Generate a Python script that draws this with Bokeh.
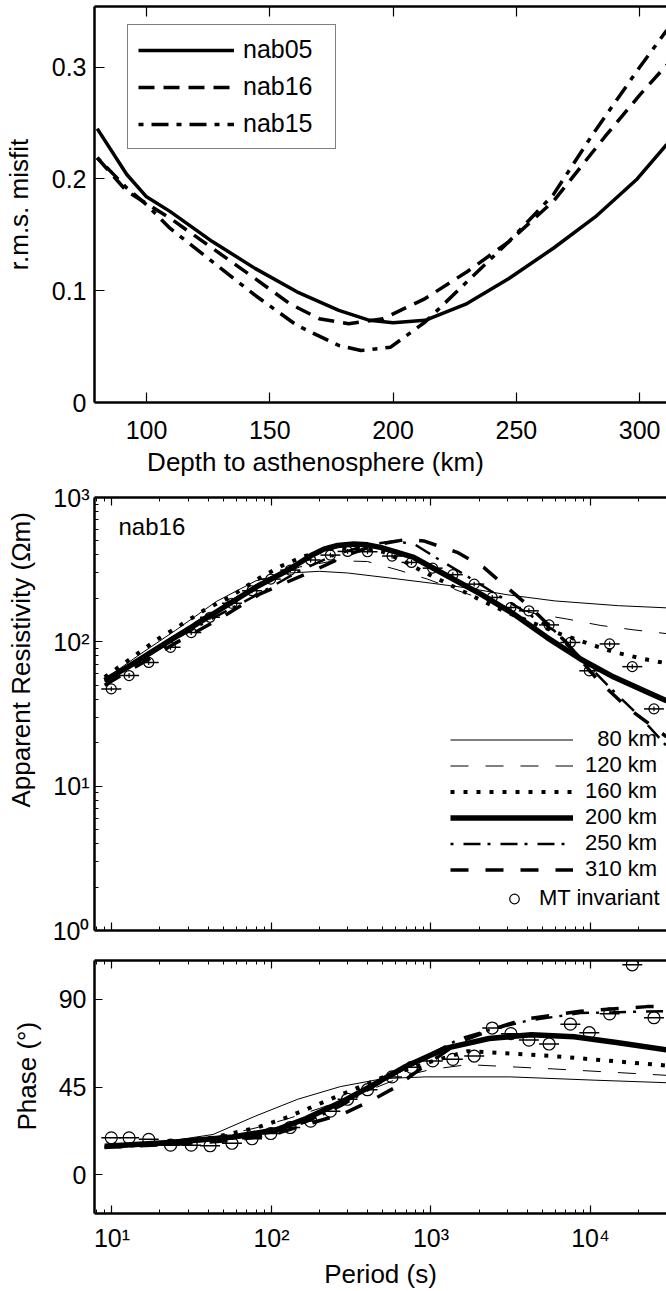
from bokeh.plotting import figure
from bokeh.models import Range1d, LinearAxis, LogAxis, FixedTicker, Legend, LegendItem, Label
from bokeh.layouts import column
from bokeh.embed import file_html
from bokeh.resources import INLINE

FONT = "Liberation Sans"
NB = "\u00a0"

# ---------------- Panel 1: misfit vs depth ----------------
depth_nab05 = [80, 92, 100, 109.5, 126.7, 144, 161, 178, 190.5, 200, 213, 230, 247, 265, 282, 299, 311]
misfit_nab05 = [0.245, 0.204, 0.184, 0.171, 0.144, 0.120, 0.099, 0.0825, 0.0735, 0.0714, 0.0735, 0.0885,
                0.111, 0.138, 0.166, 0.200, 0.231]
depth_nab16 = [80, 92, 109.5, 126.7, 144, 158, 170, 182, 196, 213, 230, 247, 265, 286, 300, 311]
misfit_nab16 = [0.219, 0.189, 0.165, 0.138, 0.111, 0.0885, 0.075, 0.0705, 0.075, 0.093, 0.117, 0.144,
                0.180, 0.238, 0.275, 0.302]
depth_nab15 = [80, 92, 100, 109.5, 126.7, 144, 161, 178, 187, 199, 213, 230, 247, 265, 281, 300, 311]
misfit_nab15 = [0.219, 0.192, 0.177, 0.156, 0.126, 0.096, 0.069, 0.051, 0.0465, 0.0495, 0.072, 0.108,
                0.144, 0.186, 0.240, 0.300, 0.333]
depth_ticks = [100, 150, 200, 250, 300]
misfit_ticks = [0, 0.1, 0.2, 0.3]
misfit_labels = ["0", "0.1", "0.2", "0.3"]

# ---------------- Observed MT invariant ----------------
period_obs = [9.9, 12.8, 17, 23.3, 31.4, 41.2, 56.5, 75.5, 99, 131, 176, 234, 300, 400, 570, 755, 1025,
              1371, 1866, 2420, 3170, 4110, 5500, 7480, 9830, 13180, 18280, 25000]
rho_obs = [47.2, 58.4, 72, 91.6, 116, 148, 185, 226, 272, 314, 369, 399, 423, 421, 393, 355, 324, 292,
           251, 203, 173, 164, 131, 99, 63, 96.7, 67.3, 34.3]
phase_obs = [18.9, 18.9, 18.1, 15.1, 15.1, 14.8, 16.1, 18.4, 21.1, 24.2, 27.5, 32.6, 38.7, 43.6, 50.2,
             55.1, 58.4, 59.2, 60.9, 75.3, 72.4, 69.1, 67.1, 77.3, 72.9, 82.6, 107.8, 80.6]

# ---------------- Model apparent resistivity ----------------
T_rho_80 = [9, 15, 25, 45, 80, 130, 200, 300, 550, 1000, 1700, 3000, 6000, 15000, 30000]
rho_80 = [55, 82, 120, 190, 265, 300, 308, 300, 277, 255, 236, 212, 192, 178, 172]
T_rho_120 = [9, 15, 25, 45, 80, 150, 250, 400, 620, 950, 1500, 2500, 4600, 7100, 11500, 18700, 30000]
rho_120 = [55, 78, 112, 170, 245, 330, 365, 360, 315, 272, 225, 185, 156, 144, 130, 121, 114]
T_rho_160 = [9, 13, 19, 27, 38, 55, 80, 115, 160, 235, 350, 500, 650, 900, 1320, 1950, 3000, 4300, 6500,
             9500, 14000, 21600, 30000]
rho_160 = [57, 76, 103, 131, 166, 205, 268, 335, 392, 440, 445, 420, 370, 305, 248, 200, 160, 136, 113,
           98, 85, 76, 71]
T_rho_200 = [9, 12.6, 23, 43, 80, 115, 146, 180, 213, 260, 328, 400, 482, 600, 780, 1262, 2040, 3300, 5350,
             8650, 14000, 22600, 30000]
rho_200 = [54, 67, 102, 156, 240, 296, 346, 400, 439, 465, 476, 470, 451, 420, 384, 287, 215, 156, 107,
           76, 57, 45, 39]
T_rho_250 = [9, 15, 25, 45, 80, 150, 250, 400, 600, 800, 1070, 1600, 2360, 3640, 5900, 8650, 13300, 20600, 30000]
rho_250 = [53, 75, 105, 150, 210, 310, 400, 470, 500, 470, 384, 295, 226, 169, 120, 78, 48, 30, 19]
T_rho_310 = [9, 15, 25, 45, 85, 131, 194, 300, 450, 720, 900, 1460, 2140, 3000, 4210, 7000, 11000, 17000, 30000]
rho_310 = [50, 70, 98, 140, 215, 265, 320, 400, 470, 515, 500, 417, 328, 238, 173, 100, 55, 35, 22]

# ---------------- Model phase ----------------
T_ph_80 = [9, 20, 43, 79, 146, 270, 500, 920, 3140, 10700, 30000]
ph_80 = [14, 16.5, 20.6, 30, 38.7, 45.2, 49.3, 50.2, 50.2, 48.5, 47.2]
T_ph_120 = [9, 20, 43, 80, 130, 200, 400, 700, 1000, 1700, 5800, 30000]
ph_120 = [14, 16, 19, 24, 29, 34, 43, 51, 54, 56.5, 54.3, 51]
T_ph_160 = [9, 20, 43, 80, 117, 171, 300, 500, 1000, 1700, 5800, 30000]
ph_160 = [14, 16, 19, 24, 28.5, 34, 42.5, 50, 58, 63.4, 60.9, 56]
T_ph_200 = [9, 23, 57, 107, 165, 270, 415, 678, 1250, 2312, 4270, 7890, 14560, 30000]
ph_200 = [14.5, 16.5, 19.3, 23, 28.8, 37, 45.2, 55.1, 65, 69.9, 71.9, 70.8, 67.9, 64.1]
T_ph_250 = [9, 23, 57, 107, 165, 270, 415, 700, 1000, 1530, 2500, 4000, 8650, 30000]
ph_250 = [14, 16, 18.5, 22, 27, 35, 44, 55, 62, 70, 75, 79, 83, 84]
T_ph_310 = [9, 23, 57, 107, 170, 284, 438, 585, 860, 1500, 2500, 3800, 8650, 22600, 30000]
ph_310 = [14, 15.5, 17.5, 21, 26, 31.3, 38.7, 44.4, 54.3, 68, 75, 79.8, 83.9, 86.3, 86.5]

period_ticks = [10, 100, 1000, 10000]
period_labels = ["10\u00b9", "10\u00b2", "10\u00b3", "10\u2074"]
rho_ticks = [1, 10, 100, 1000]
rho_labels = ["10\u2070", "10\u00b9", "10\u00b2", "10\u00b3"]
phase_ticks = [0, 45, 90]
phase_labels = ["0", "45", "90"]
model_labels = ["\u200780 km", "120 km", "160 km", "200 km", "250 km", "310 km"]

# styles
STY = [dict(line_width=1.0, line_dash="solid"),
       dict(line_width=1.0, line_dash="18 17"),
       dict(line_width=4.0, line_dash="4 9"),
       dict(line_width=5.5, line_dash="solid"),
       dict(line_width=2.5, line_dash="3 10 17 7"),
       dict(line_width=3.5, line_dash="18 17")]


def style_axis(ax, tick_in, minor_in=0, show_labels=True):
    ax.axis_line_width = 2.5
    ax.axis_line_color = "black"
    ax.major_tick_in = tick_in
    ax.major_tick_out = 0
    ax.major_tick_line_width = 1.2
    ax.major_tick_line_color = "black"
    ax.minor_tick_in = minor_in
    ax.minor_tick_out = 0
    ax.minor_tick_line_width = 1.0
    if minor_in == 0:
        ax.minor_tick_line_color = None
    else:
        ax.minor_tick_line_color = "black"
    ax.major_label_text_font = FONT
    ax.major_label_text_font_size = "25px"
    ax.major_label_text_color = "black"
    ax.axis_label_text_font = FONT
    ax.axis_label_text_font_size = "26px"
    ax.axis_label_text_font_style = "normal"
    ax.axis_label_text_color = "black"
    if not show_labels:
        ax.major_label_text_font_size = "1px"
        ax.major_label_text_color = None
        ax.major_label_standoff = 0


# ================= Figure 1 =================
p1 = figure(width=666, height=483, x_range=Range1d(78.9, 310.9), y_range=Range1d(0, 0.3543),
            output_backend="svg", toolbar_location=None,
            min_border_left=94, min_border_right=0, min_border_top=6, min_border_bottom=81)
p1.outline_line_color = None
p1.grid.visible = False

r05 = p1.line(depth_nab05, misfit_nab05, line_color="black", line_width=3.5)
r16 = p1.line(depth_nab16, misfit_nab16, line_color="black", line_width=3.5, line_dash="16 9")
r15 = p1.line(depth_nab15, misfit_nab15, line_color="black", line_width=3.5, line_dash="5 8 17 8")

xa = p1.xaxis[0]
xa.ticker = FixedTicker(ticks=depth_ticks)
xa.axis_label = "Depth to asthenosphere (km)" + NB * 18
style_axis(xa, 10)
xa.major_label_standoff = 18
xa.axis_label_standoff = 5
ya = p1.yaxis[0]
ya.ticker = FixedTicker(ticks=misfit_ticks)
ya.major_label_overrides = dict(zip(misfit_ticks, misfit_labels))
ya.axis_label = "r.m.s. misfit"
style_axis(ya, 10)
ya.major_label_standoff = 8
ya.axis_label_standoff = 15
top1 = LinearAxis(ticker=FixedTicker(ticks=depth_ticks))
style_axis(top1, 10, show_labels=False)
p1.add_layout(top1, "above")

leg1 = Legend(items=[LegendItem(label="nab05", renderers=[r05]),
                     LegendItem(label="nab16", renderers=[r16]),
                     LegendItem(label="nab15", renderers=[r15])],
              location=(33, 253), glyph_width=96, glyph_height=28, label_height=28, label_width=82,
              label_standoff=9, spacing=8, padding=10, margin=0,
              border_line_color="black", border_line_width=1,
              label_text_font=FONT, label_text_font_size="25px", label_text_color="black")
p1.add_layout(leg1, "center")

# ================= Figure 2 =================
p2 = figure(width=666, height=463, x_axis_type="log", y_axis_type="log",
            x_range=Range1d(7.77, 29960), y_range=Range1d(1, 1000),
            output_backend="svg", toolbar_location=None,
            min_border_left=94, min_border_right=0, min_border_top=14, min_border_bottom=16)
p2.outline_line_color = None
p2.grid.visible = False

minor_T = [m * 10 ** e for e in range(0, 5) for m in range(2, 10)]
minor_R = [m * 10 ** e for e in range(0, 3) for m in range(2, 10)]

rho_T = [T_rho_80, T_rho_120, T_rho_160, T_rho_200, T_rho_250, T_rho_310]
rho_V = [rho_80, rho_120, rho_160, rho_200, rho_250, rho_310]
rr = []
for t, v, s in zip(rho_T, rho_V, STY):
    rr.append(p2.line(t, v, line_color="black", **s))

p2.segment(x0=[t / 1.155 for t in period_obs], y0=rho_obs, x1=[t * 1.155 for t in period_obs], y1=rho_obs,
           line_color="black", line_width=1.5)
p2.segment(x0=period_obs, y0=[r / 1.04 for r in rho_obs], x1=period_obs, y1=[r * 1.04 for r in rho_obs],
           line_color="black", line_width=1.2)
rc = p2.scatter(period_obs, rho_obs, marker="circle", size=10, fill_color=None,
                line_color="black", line_width=1.2)

xa = p2.xaxis[0]
xa.ticker = FixedTicker(ticks=period_ticks, minor_ticks=minor_T)
style_axis(xa, 8, 4, show_labels=False)
ya = p2.yaxis[0]
ya.ticker = FixedTicker(ticks=rho_ticks, minor_ticks=minor_R)
ya.major_label_overrides = dict(zip(rho_ticks, rho_labels))
ya.axis_label = NB * 15 + "Apparent Resistivity (\u03a9m)"
style_axis(ya, 8, 4)
ya.major_label_standoff = 5
ya.axis_label_standoff = 14
top2 = LogAxis(ticker=FixedTicker(ticks=period_ticks, minor_ticks=minor_T))
style_axis(top2, 8, 4, show_labels=False)
p2.add_layout(top2, "above")

leg2 = Legend(items=[LegendItem(label=l, renderers=[r]) for l, r in zip(model_labels, rr)],
              location=(356, 48), glyph_width=123, glyph_height=25, label_height=25,
              label_standoff=12, spacing=0, padding=0, margin=0,
              border_line_color=None, background_fill_alpha=0,
              label_text_font=FONT, label_text_font_size="22px", label_text_color="black")
p2.add_layout(leg2, "center")
leg3 = Legend(items=[LegendItem(label="MT invariant", renderers=[rc])],
              location=(408, 19), glyph_width=24, glyph_height=25, label_height=25,
              label_standoff=13, spacing=0, padding=0, margin=0,
              border_line_color=None, background_fill_alpha=0,
              label_text_font=FONT, label_text_font_size="22px", label_text_color="black")
p2.add_layout(leg3, "center")
p2.add_layout(Label(x=24, y=418, x_units="screen", y_units="screen", text="nab16",
                    text_font=FONT, text_font_size="24px", text_baseline="top", text_color="black"))

# ================= Figure 3 =================
p3 = figure(width=666, height=345, x_axis_type="log",
            x_range=Range1d(7.77, 29960), y_range=Range1d(-20, 110),
            output_backend="svg", toolbar_location=None,
            min_border_left=94, min_border_right=0, min_border_top=14, min_border_bottom=69)
p3.outline_line_color = None
p3.grid.visible = False

ph_T = [T_ph_80, T_ph_120, T_ph_160, T_ph_200, T_ph_250, T_ph_310]
ph_V = [ph_80, ph_120, ph_160, ph_200, ph_250, ph_310]
for t, v, s in zip(ph_T, ph_V, STY):
    p3.line(t, v, line_color="black", **s)
p3.segment(x0=[t / 1.155 for t in period_obs], y0=phase_obs, x1=[t * 1.155 for t in period_obs], y1=phase_obs,
           line_color="black", line_width=1.5)
p3.scatter(period_obs, phase_obs, marker="circle", size=12, fill_color=None,
           line_color="black", line_width=1.2)

xa = p3.xaxis[0]
xa.ticker = FixedTicker(ticks=period_ticks, minor_ticks=minor_T)
xa.major_label_overrides = dict(zip(period_ticks, period_labels))
xa.axis_label = "Period (s)"
style_axis(xa, 8, 4)
xa.major_label_standoff = 10
xa.axis_label_standoff = 4
ya = p3.yaxis[0]
ya.ticker = FixedTicker(ticks=phase_ticks)
ya.major_label_overrides = dict(zip(phase_ticks, phase_labels))
ya.axis_label = NB * 3 + "Phase (\u00b0)"
style_axis(ya, 8)
ya.major_label_standoff = 8
ya.axis_label_standoff = 14
top3 = LogAxis(ticker=FixedTicker(ticks=period_ticks, minor_ticks=minor_T))
style_axis(top3, 8, 4, show_labels=False)
p3.add_layout(top3, "above")

layout = column(p1, p2, p3, spacing=0)
open("out.html", "w").write(file_html(layout, INLINE))
